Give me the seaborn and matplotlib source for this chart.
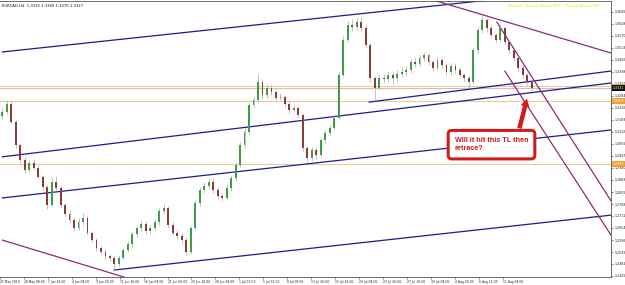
import numpy as np
import pandas as pd
import matplotlib
matplotlib.use("Agg")
import matplotlib.pyplot as plt
import matplotlib.transforms as mtrans
import matplotlib.patches as mpatches
import seaborn as sns

# ---------------- data ----------------
symbol_title = "EURCAD,H4  1.3310 1.3340 1.3270 1.3327"
alert_text = "Alerter : Emails Alerts OFF    Popup Alerts ON"
annotation_text = "Will it hit this TL then\nretrace?"

bars_per_candle = 3          # each drawn candle groups three H4 bars
first_open = 1.3190

close = [1.3207,1.3245,1.3159,1.3049,1.2978,1.2930,1.2963,1.2940,1.2897,1.2849,
         1.2763,1.2873,1.2844,1.2763,1.2720,1.2692,1.2653,1.2682,1.2701,1.2630,
         1.2596,1.2558,1.2539,1.2520,1.2510,1.2482,1.2510,1.2549,1.2577,1.2625,
         1.2653,1.2672,1.2639,1.2653,1.2682,1.2734,1.2749,1.2668,1.2630,1.2615,
         1.2596,1.2539,1.2653,1.2773,1.2835,1.2854,1.2873,1.2835,1.2806,1.2797,
         1.2844,1.2892,1.2954,1.3049,1.3111,1.3240,1.3264,1.3350,1.3288,1.3321,
         1.3302,1.3274,1.3278,1.3245,1.3216,1.3226,1.3192,1.3035,1.2987,1.3026,
         1.3002,1.3073,1.3107,1.3130,1.3178,1.3383,1.3550,1.3622,1.3612,1.3636,
         1.3607,1.3526,1.3369,1.3321,1.3369,1.3364,1.3383,1.3369,1.3388,1.3398,
         1.3407,1.3445,1.3436,1.3464,1.3479,1.3445,1.3417,1.3455,1.3431,1.3398,
         1.3426,1.3407,1.3383,1.3369,1.3350,1.3503,1.3598,1.3646,1.3607,1.3574,
         1.3550,1.3607,1.3541,1.3503,1.3464,1.3417,1.3383,1.3350,1.3321]

high = [1.3230,1.3262,1.3258,1.3170,1.3060,1.2990,1.2980,1.2985,1.2955,1.2905,
        1.2860,1.2895,1.2900,1.2855,1.2775,1.2735,1.2705,1.2700,1.2725,1.2710,
        1.2640,1.2605,1.2570,1.2555,1.2532,1.2520,1.2525,1.2560,1.2590,1.2640,
        1.2668,1.2690,1.2685,1.2670,1.2695,1.2750,1.2770,1.2760,1.2680,1.2645,
        1.2630,1.2610,1.2665,1.2785,1.2850,1.2875,1.2890,1.2885,1.2848,1.2820,
        1.2858,1.2905,1.2968,1.3065,1.3130,1.3255,1.3285,1.3390,1.3362,1.3340,
        1.3335,1.3318,1.3295,1.3290,1.3258,1.3240,1.3238,1.3200,1.3045,1.3040,
        1.3040,1.3085,1.3120,1.3145,1.3195,1.3400,1.3570,1.3640,1.3650,1.3655,
        1.3660,1.3620,1.3535,1.3380,1.3385,1.3390,1.3400,1.3398,1.3405,1.3420,
        1.3425,1.3460,1.3462,1.3480,1.3495,1.3490,1.3455,1.3470,1.3468,1.3440,
        1.3440,1.3442,1.3420,1.3395,1.3380,1.3515,1.3615,1.3665,1.3655,1.3620,
        1.3585,1.3625,1.3615,1.3550,1.3515,1.3475,1.3430,1.3395,1.3360]

low = [1.3175,1.3195,1.3150,1.3035,1.2965,1.2915,1.2920,1.2928,1.2885,1.2835,
       1.2745,1.2755,1.2830,1.2750,1.2705,1.2678,1.2640,1.2645,1.2670,1.2618,
       1.2585,1.2545,1.2528,1.2508,1.2495,1.2450,1.2470,1.2500,1.2538,1.2565,
       1.2612,1.2640,1.2625,1.2625,1.2640,1.2670,1.2720,1.2655,1.2618,1.2600,
       1.2582,1.2525,1.2530,1.2645,1.2760,1.2820,1.2840,1.2822,1.2790,1.2780,
       1.2785,1.2830,1.2880,1.2945,1.3035,1.3100,1.3225,1.3255,1.3270,1.3275,
       1.3290,1.3260,1.3262,1.3232,1.3200,1.3205,1.3180,1.3020,1.2970,1.2975,
       1.2985,1.2990,1.3060,1.3095,1.3120,1.3170,1.3375,1.3540,1.3595,1.3600,
       1.3590,1.3510,1.3350,1.3270,1.3310,1.3345,1.3350,1.3340,1.3355,1.3375,
       1.3380,1.3395,1.3420,1.3425,1.3450,1.3430,1.3400,1.3405,1.3418,1.3385,
       1.3385,1.3395,1.3370,1.3350,1.3320,1.3340,1.3490,1.3585,1.3590,1.3560,
       1.3535,1.3540,1.3530,1.3490,1.3450,1.3400,1.3370,1.3335,1.3305]

x_tick_labels = ["25 May 2010", "28 May 08:00", "1 Jun 16:00", "4 Jun 08:00",
                 "9 Jun 00:00", "11 Jun 16:00", "16 Jun 08:00", "21 Jun 00:00",
                 "23 Jun 16:00", "28 Jun 08:00", "1 Jul 00:00", "5 Jul 16:00",
                 "8 Jul 08:00", "13 Jul 00:00", "15 Jul 16:00", "20 Jul 08:00",
                 "23 Jul 00:00", "27 Jul 16:00", "30 Jul 08:00", "4 Aug 00:00",
                 "6 Aug 16:00", "11 Aug 08:00"]
bars_per_label = 16

y_ticks = [1.3685, 1.3628, 1.3570, 1.3513, 1.3456, 1.3398, 1.3341, 1.3284,
           1.3226, 1.3169, 1.3112, 1.3055, 1.2997, 1.2940, 1.2883, 1.2825,
           1.2768, 1.2711, 1.2654, 1.2596, 1.2539, 1.2482, 1.2425]

# trend lines: (start bar, start price, end bar, end price)
blue_lines = [(0, 1.3493, 330, 1.3744),
              (0, 1.2993, 407, 1.3345),
              (0, 1.2797, 407, 1.3121),
              (74.6, 1.2453, 407, 1.2715),
              (245.3, 1.3254, 407, 1.3402)]
purple_lines = [(0, 1.2596, 85, 1.2412),
                (286, 1.3745, 407, 1.3488),
                (330.6, 1.3636, 407, 1.2783),
                (336, 1.3402, 407, 1.2620)]

level_prices = [1.3331, 1.3321, 1.3259, 1.2959]
level_colors = ["#f2c993", "#c9c3b8", "#f2c993", "#f2c993"]
bid_price = 1.3321
bid_label = "1.3321"
level_tags = [("1.3259", 1.3259), ("1.2959", 1.2959)]
hidden_tag_price = 1.3336   # orange tag peeking above the bid label

arrow_tail = (345.3, 1.3116)
arrow_tip = (351.3, 1.3283)
note_anchor = (302.5, 1.3088)

# ---------------- figure ----------------
sns.set_theme(style="white")
plt.rcParams["font.family"] = ["DejaVu Sans"]

fig = plt.figure(figsize=(6.25, 2.85), dpi=100)
fig.patch.set_facecolor("white")
ax = fig.add_axes([0.0, 8 / 285, 611 / 625, 276 / 285])
ax.set_facecolor("white")

n = len(close)
c = np.array(close)
o = np.array([first_open] + close[:-1])
h = np.maximum(np.array(high), np.maximum(o, c))
l = np.minimum(np.array(low), np.minimum(o, c))
xb = np.arange(n) * bars_per_candle

# horizontal levels
for p, col in zip(level_prices, level_colors):
    ax.axhline(p, color=col, lw=0.8, zorder=1)

# trend lines via seaborn
rows = []
for k, (b0, p0, b1, p1) in enumerate(blue_lines):
    rows += [("b%d" % k, b0, p0), ("b%d" % k, b1, p1)]
dfb = pd.DataFrame(rows, columns=["line", "bar", "price"])
rows = []
for k, (b0, p0, b1, p1) in enumerate(purple_lines):
    rows += [("p%d" % k, b0, p0), ("p%d" % k, b1, p1)]
dfp = pd.DataFrame(rows, columns=["line", "bar", "price"])
sns.lineplot(data=dfb, x="bar", y="price", units="line", estimator=None,
             color="#1c1c8e", lw=0.9, ax=ax, zorder=2, sort=False)
sns.lineplot(data=dfp, x="bar", y="price", units="line", estimator=None,
             color="#8e2a78", lw=0.9, ax=ax, zorder=2, sort=False)

# candles
up = c >= o
ax.vlines(xb, l, h, color="#aaaaaa", lw=0.5, zorder=3)
body_h = np.maximum(np.abs(c - o), 0.0002)
ax.bar(xb[up], body_h[up], bottom=np.minimum(o, c)[up], width=1.25,
       color="#3e9e46", lw=0, zorder=4)
ax.bar(xb[~up], body_h[~up], bottom=np.minimum(o, c)[~up], width=1.25,
       color="#8c3b3b", lw=0, zorder=4)

# axes setup
ax.set_xlim(-0.7, 407)
ax.set_ylim(1.2420, 1.3736)
ax.set_xlabel("")
ax.set_ylabel("")
ax.yaxis.tick_right()
ax.set_yticks(y_ticks)
ax.set_yticklabels(["%.4f" % v for v in y_ticks])
tick_pos = [bars_per_label * k - 1.5 for k in range(len(x_tick_labels))]
ax.set_xticks(tick_pos)
ax.set_xticklabels(x_tick_labels)
for lab in ax.get_xticklabels():
    lab.set_ha("left")
ax.tick_params(axis="y", labelsize=2.3, length=1.5, width=0.4, pad=1.2,
               colors="#222222", right=True, left=False)
ax.tick_params(axis="x", labelsize=2.2, length=1.5, width=0.4, pad=0.8,
               colors="#222222", bottom=True)
for s in ax.spines.values():
    s.set_color("#555555")
    s.set_linewidth(0.6)
ax.spines["left"].set_visible(False)

# price tags on right axis
blend = mtrans.blended_transform_factory(ax.transAxes, ax.transData)
ax.add_patch(mpatches.Rectangle((1.002, hidden_tag_price - 0.0006), 0.03, 0.0012,
                                transform=blend, fc="#f0a030", ec="none",
                                clip_on=False, zorder=9))
ax.text(1.003, bid_price, bid_label, transform=blend, fontsize=2.3, color="white",
        va="center", ha="left", clip_on=False, zorder=10,
        bbox=dict(boxstyle="square,pad=0.25", fc="#101010", ec="none"))
for txt, p in level_tags:
    ax.text(1.003, p, txt, transform=blend, fontsize=2.3, color="white",
            va="center", ha="left", clip_on=False, zorder=10,
            bbox=dict(boxstyle="square,pad=0.25", fc="#f0a030", ec="none"))

# header texts
ax.text(0.004, 0.982, symbol_title, transform=ax.transAxes, fontsize=2.7,
        color="#111111", va="center", ha="left")
ax.text(0.831, 0.982, alert_text, transform=ax.transAxes, fontsize=2.9,
        color="#e8e800", va="center", ha="left")

# annotation box + arrow
ax.text(note_anchor[0], note_anchor[1], annotation_text, fontsize=5.2,
        fontweight="bold", family="Liberation Sans", color="#c81e1e",
        va="top", ha="left", linespacing=1.3, zorder=8,
        bbox=dict(boxstyle="round,pad=0.9,rounding_size=0.5", fc="white",
                  ec="#d21c1c", lw=2.2))
ax.annotate("", xy=arrow_tip, xytext=arrow_tail, zorder=9,
            arrowprops=dict(arrowstyle="simple,head_length=0.7,head_width=0.8,tail_width=0.4",
                            color="#d21c1c", mutation_scale=8, lw=0))

fig.savefig("out.png", dpi=100, facecolor="white")
